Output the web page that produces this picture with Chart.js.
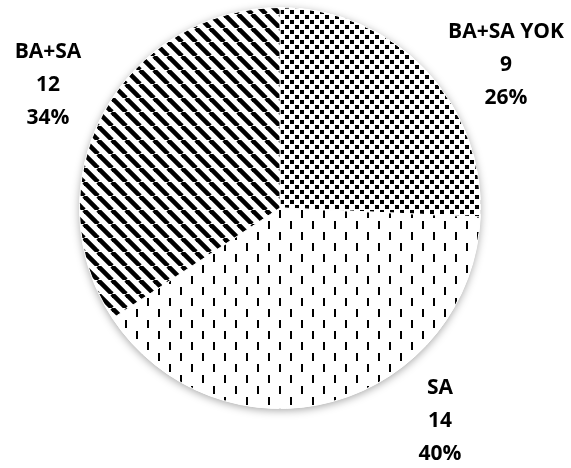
<!DOCTYPE html>
<html>
<head>
<meta charset="utf-8">
<script src="https://cdn.jsdelivr.net/npm/chart.js@4"></script>
<style>
  html, body { margin: 0; padding: 0; background: #fff; }
  #wrap { width: 571px; height: 468px; }
</style>
</head>
<body>
<div id="wrap"><canvas id="pieChart" width="571" height="468"></canvas></div>
<script>
const categories = ["BA+SA YOK", "SA", "BA+SA"];
const counts = [9, 14, 12];
const percentLabels = ["26%", "40%", "34%"];

// pattern tiles for the black & white fills
function dotPattern() {
  const c = document.createElement("canvas");
  c.width = 10; c.height = 10;
  const g = c.getContext("2d");
  g.fillStyle = "#fff";
  g.fillRect(0, 0, 10, 10);
  g.fillStyle = "#000";
  g.fillRect(0, 0, 4, 4);
  g.fillRect(5, 5, 4, 4);
  return g.createPattern(c, "repeat");
}

function dashPattern() {
  const c = document.createElement("canvas");
  c.width = 22; c.height = 22;
  const g = c.getContext("2d");
  g.fillStyle = "#fff";
  g.fillRect(0, 0, 22, 22);
  g.fillStyle = "#000";
  g.fillRect(4, 1, 2, 8);
  g.fillRect(15, 12, 2, 8);
  return g.createPattern(c, "repeat");
}

function stripePattern() {
  const s = 14;
  const c = document.createElement("canvas");
  c.width = s; c.height = s;
  const g = c.getContext("2d");
  g.fillStyle = "#fff";
  g.fillRect(0, 0, s, s);
  g.strokeStyle = "#000";
  g.lineWidth = 4.6;
  // "\" diagonals, repeated so the tile wraps cleanly
  for (let k = -1; k <= 1; k++) {
    g.beginPath();
    g.moveTo(k * s, 0);
    g.lineTo(k * s + s, s);
    g.stroke();
  }
  return g.createPattern(c, "repeat");
}

// soft shadow under the whole pie
const pieShadow = {
  id: "pieShadow",
  beforeDatasetsDraw(chart) {
    const arc = chart.getDatasetMeta(0).data[0];
    if (!arc) return;
    const ctx = chart.ctx;
    ctx.save();
    ctx.shadowColor = "rgba(0,0,0,0.35)";
    ctx.shadowBlur = 9;
    ctx.shadowOffsetY = 2;
    ctx.fillStyle = "#fff";
    ctx.beginPath();
    ctx.arc(arc.x, arc.y, arc.outerRadius, 0, Math.PI * 2);
    ctx.fill();
    ctx.restore();
  }
};

// name / count / percent written outside each slice
const sliceLabels = {
  id: "sliceLabels",
  afterDatasetsDraw(chart, args, opts) {
    const ctx = chart.ctx;
    ctx.save();
    ctx.fillStyle = "#000";
    ctx.font = "bold 21px 'Open Sans', sans-serif";
    ctx.textAlign = "center";
    ctx.textBaseline = "middle";
    chart.data.labels.forEach((name, i) => {
      const [x, y] = opts.positions[i];
      const lines = [name, String(chart.data.datasets[0].data[i]), percentLabels[i]];
      lines.forEach((t, j) => ctx.fillText(t, x, y + j * opts.lineGap));
    });
    ctx.restore();
  }
};

new Chart(document.getElementById("pieChart"), {
  type: "pie",
  data: {
    labels: categories,
    datasets: [{
      data: counts,
      backgroundColor: [dotPattern(), dashPattern(), stripePattern()],
      borderColor: "#fff",
      borderWidth: 1
    }]
  },
  options: {
    responsive: false,
    animation: false,
    layout: { padding: { left: 79, right: 90, top: 7, bottom: 59 } },
    plugins: {
      legend: { display: false },
      tooltip: { enabled: false },
      sliceLabels: {
        positions: [[506, 32], [440, 388], [48, 52]],
        lineGap: 33
      }
    }
  },
  plugins: [pieShadow, sliceLabels]
});
</script>
</body>
</html>
